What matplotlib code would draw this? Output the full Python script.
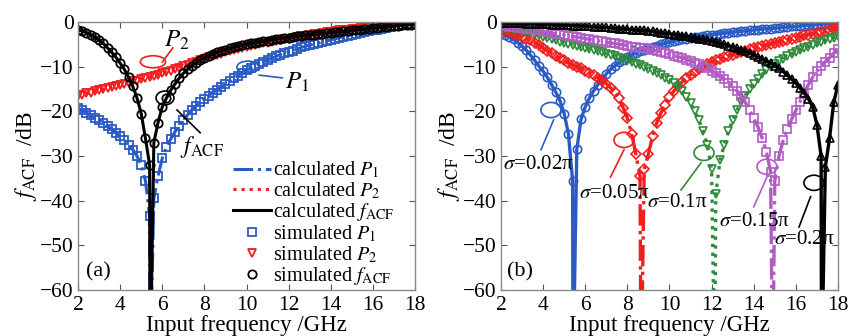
import matplotlib
matplotlib.use('Agg')
import matplotlib.pyplot as plt
import numpy as np
from matplotlib.patches import Ellipse
from matplotlib.lines import Line2D

plt.rcParams['font.family'] = ['Liberation Serif', 'DejaVu Serif']
plt.rcParams['mathtext.fontset'] = 'stix'

# frequency grid of the simulated points (GHz), 2.0 ... 18.0 in 0.2 steps
freq = np.round(np.arange(2.0, 18.01, 0.2), 1)

# ---- panel (a) ----
a_p1 = [-19.3, -19.8, -20.3, -20.9, -21.4, -22.0, -22.6, -23.3, -24.0, -24.8,
        -25.6, -26.5, -27.5, -28.6, -30.0, -32.0, -35.5, -43.5, -39.5, -34.5,
        -30.5, -28.0, -26.2, -24.6, -23.2, -22.0, -20.8, -19.7, -18.8, -18.0,
        -17.2, -16.5, -15.8, -15.2, -14.6, -13.9, -13.3, -12.6, -12.0, -11.4,
        -10.8, -10.3, -9.8, -9.4, -8.9, -8.5, -8.1, -7.7, -7.3, -7.0,
        -6.7, -6.4, -6.1, -5.7, -5.4, -5.2, -4.9, -4.7, -4.5, -4.2,
        -4.0, -3.8, -3.5, -3.3, -3.1, -2.8, -2.6, -2.4, -2.2, -2.1,
        -1.9, -1.7, -1.6, -1.4, -1.2, -1.0, -0.8, -0.7, -0.5, -0.4, -0.3]
a_p2 = [-16.5, -16.3, -16.0, -15.8, -15.5, -15.3, -15.1, -14.8, -14.6, -14.3,
        -14.1, -13.9, -13.6, -13.3, -13.1, -12.8, -12.6, -12.3, -12.0, -11.8,
        -11.5, -11.2, -10.9, -10.6, -10.2, -9.9, -9.6, -9.2, -8.9, -8.5,
        -8.2, -7.9, -7.6, -7.4, -7.1, -6.8, -6.6, -6.3, -6.1, -5.8,
        -5.6, -5.4, -5.2, -5.0, -4.8, -4.6, -4.4, -4.2, -4.0, -3.9,
        -3.7, -3.5, -3.4, -3.2, -3.1, -2.9, -2.7, -2.6, -2.5, -2.3,
        -2.2, -2.0, -1.9, -1.8, -1.7, -1.6, -1.5, -1.3, -1.2, -1.1,
        -1.0, -0.9, -0.8, -0.7, -0.6, -0.5, -0.4, -0.3, -0.3, -0.2, -0.1]
a_acf = [-1.8, -2.0, -2.4, -2.9, -3.4, -4.0, -4.8, -5.8, -6.8, -7.9,
         -9.2, -10.6, -12.4, -14.4, -17.0, -20.5, -26.0, -32.0, -27.0, -22.5,
         -19.0, -17.0, -15.3, -13.9, -12.6, -11.5, -10.6, -9.8, -9.1, -8.5,
         -8.0, -7.6, -7.2, -6.8, -6.5, -6.2, -5.9, -5.7, -5.4, -5.2,
         -5.0, -4.8, -4.7, -4.5, -4.3, -4.2, -4.0, -3.9, -3.7, -3.6,
         -3.5, -3.4, -3.2, -3.1, -3.0, -2.9, -2.8, -2.7, -2.6, -2.5,
         -2.4, -2.3, -2.2, -2.1, -2.0, -1.9, -1.8, -1.7, -1.6, -1.5,
         -1.4, -1.3, -1.2, -1.1, -1.0, -0.9, -0.8, -0.7, -0.6, -0.6, -0.5]
a_notch = 5.42

# ---- panel (b): f_ACF for several sigma ----
sigma_labels = ['0.02', '0.05', '0.1', '0.15', '0.2']
b_notch = [5.42, 8.65, 12.15, 14.9, 17.22]
b_s002 = [-2.5, -2.9, -3.4, -3.9, -4.6, -5.4, -6.3, -7.4, -8.6, -9.9,
          -11.0, -12.4, -14.0, -15.7, -17.6, -20.5, -25.0, -35.5, -28.5, -21.8,
          -19.0, -17.0, -15.4, -14.0, -12.8, -11.6, -10.6, -9.8, -9.0, -8.4,
          -7.9, -7.4, -7.0, -6.6, -6.2, -5.9, -5.6, -5.3, -5.0, -4.8,
          -4.5, -4.3, -4.1, -3.9, -3.7, -3.6, -3.4, -3.3, -3.1, -3.0,
          -2.9, -2.8, -2.6, -2.5, -2.4, -2.3, -2.2, -2.1, -2.0, -1.9,
          -1.8, -1.7, -1.6, -1.5, -1.5, -1.4, -1.3, -1.2, -1.1, -1.0,
          -1.0, -0.9, -0.8, -0.7, -0.7, -0.6, -0.5, -0.4, -0.4, -0.3, -0.3]
b_s005 = [-1.8, -2.0, -2.3, -2.6, -2.9, -3.3, -3.7, -4.1, -4.6, -5.2,
          -5.8, -6.4, -7.0, -7.6, -8.1, -8.6, -9.1, -9.6, -10.0, -10.4,
          -10.9, -11.4, -11.9, -12.5, -13.1, -13.8, -14.7, -15.6, -17.0, -19.2,
          -21.5, -25.0, -29.5, -34.5, -33.0, -29.5, -25.5, -22.5, -20.3, -18.5,
          -16.8, -15.5, -14.4, -13.4, -12.6, -11.8, -11.1, -10.5, -10.0, -9.5,
          -9.0, -8.6, -8.2, -7.9, -7.6, -7.3, -7.0, -6.7, -6.4, -6.1,
          -5.9, -5.6, -5.4, -5.1, -4.9, -4.7, -4.4, -4.2, -4.0, -3.7,
          -3.5, -3.3, -3.0, -2.8, -2.6, -2.4, -2.2, -2.0, -1.8, -1.6, -1.4]
b_s01 = [-1.2, -1.4, -1.5, -1.7, -1.8, -2.0, -2.2, -2.5, -2.7, -3.0,
         -3.3, -3.6, -3.9, -4.1, -4.4, -4.6, -4.9, -5.1, -5.3, -5.6,
         -5.8, -6.0, -6.3, -6.5, -6.8, -7.1, -7.4, -7.7, -8.0, -8.3,
         -8.7, -9.0, -9.3, -9.7, -10.1, -10.5, -10.9, -11.4, -11.9, -12.5,
         -13.0, -13.7, -14.5, -15.5, -16.7, -18.2, -19.9, -22.0, -24.5, -27.5,
         -33.0, -38.5, -31.0, -27.5, -24.5, -22.0, -19.8, -18.0, -16.5, -15.0,
         -13.8, -12.7, -11.7, -10.8, -10.0, -9.4, -8.8, -8.2, -7.7, -7.2,
         -6.7, -6.3, -5.9, -5.5, -5.1, -4.8, -4.5, -4.1, -3.8, -3.5, -3.2]
b_s015 = [-0.9, -1.0, -1.1, -1.2, -1.3, -1.4, -1.5, -1.6, -1.8, -1.9,
          -2.1, -2.2, -2.4, -2.6, -2.7, -2.9, -3.1, -3.2, -3.4, -3.5,
          -3.7, -3.9, -4.0, -4.2, -4.3, -4.5, -4.7, -4.8, -5.0, -5.1,
          -5.3, -5.5, -5.6, -5.8, -5.9, -6.1, -6.3, -6.5, -6.7, -7.0,
          -7.2, -7.5, -7.8, -8.0, -8.4, -8.7, -9.1, -9.5, -9.9, -10.4,
          -10.9, -11.5, -12.1, -12.8, -13.6, -14.4, -15.4, -16.6, -18.0, -19.7,
          -21.5, -23.5, -26.0, -29.0, -33.5, -35.5, -30.0, -26.5, -24.0, -21.8,
          -19.8, -17.8, -15.8, -14.0, -12.4, -11.0, -9.9, -8.9, -8.0, -7.0, -6.0]
b_s02 = [-0.2, -0.2, -0.3, -0.3, -0.3, -0.3, -0.4, -0.4, -0.4, -0.5,
         -0.5, -0.5, -0.6, -0.6, -0.7, -0.7, -0.7, -0.8, -0.8, -0.9,
         -0.9, -1.0, -1.1, -1.1, -1.2, -1.2, -1.3, -1.4, -1.5, -1.5,
         -1.6, -1.7, -1.8, -1.9, -1.9, -2.0, -2.1, -2.3, -2.4, -2.5,
         -2.6, -2.8, -2.9, -3.1, -3.2, -3.4, -3.6, -3.7, -3.9, -4.1,
         -4.3, -4.5, -4.8, -5.0, -5.3, -5.6, -5.9, -6.2, -6.6, -7.0,
         -7.4, -7.8, -8.3, -8.7, -9.2, -9.8, -10.4, -11.1, -11.9, -12.8,
         -13.7, -14.7, -15.9, -17.2, -19.0, -23.0, -30.0, -32.5, -26.0, -18.0, -14.0]
b_series = [b_s002, b_s005, b_s01, b_s015, b_s02]

b_colors = ['#2a5bc4', '#f21d1d', '#2e8b3a', '#b05cc4', '#000000']
b_markers = ['o', 'D', 'v', 's', '^']
b_lstyles = ['-', '-.', ':', '-.', '-']
b_msize = [6.0, 4.6, 6.0, 5.5, 6.0]

NOTCH_DEPTH = -80.0


def with_notch(x, y, f0):
    # calculated curve goes to -inf dB at the notch frequency
    xs = np.append(x, f0)
    ys = np.append(y, NOTCH_DEPTH)
    order = np.argsort(xs)
    return xs[order], ys[order]


def style_axes(ax):
    ax.set_xlim(2, 18)
    ax.set_ylim(-60, 0)
    ax.set_xticks(np.arange(2, 19, 2))
    ax.set_yticks(np.arange(-60, 1, 10))
    ax.tick_params(direction='in', top=True, right=True, labelsize=15.5,
                   length=4, width=0.8, color='#555555')
    ax.tick_params(axis='x', pad=4)
    ax.tick_params(axis='y', pad=3)
    for sp in ax.spines.values():
        sp.set_color('#8a8a8a')
        sp.set_linewidth(1.0)
    ax.set_xlabel('Input frequency /GHz', fontsize=16.5, labelpad=0.5)
    ax.set_ylabel(r'$f_{\rm ACF}$  /dB', fontsize=17, labelpad=1)


fig = plt.figure(figsize=(8.49, 3.36), dpi=100)
ax_a = fig.add_axes([0.0919, 0.1369, 0.3969, 0.7976])
ax_b = fig.add_axes([0.5901, 0.1369, 0.3969, 0.7976])

blue, red = '#2a5bc4', '#f21d1d'

# panel (a)
x, y = with_notch(freq, a_p1, a_notch)
ax_a.plot(x, y, '-.', color=blue, lw=2.2)
ax_a.plot(freq, a_p1, 's', mfc='none', mec=blue, ms=6, mew=1.3)
ax_a.plot(freq, a_p2, ':', color=red, lw=2.2)
ax_a.plot(freq, a_p2, 'v', mfc='none', mec=red, ms=6, mew=1.3)
x, y = with_notch(freq, a_acf, a_notch)
ax_a.plot(x, y, '-', color='k', lw=2.2)
ax_a.plot(freq, a_acf, 'o', mfc='none', mec='k', ms=6, mew=1.3)
style_axes(ax_a)

handles = [Line2D([], [], ls='-.', color=blue, lw=2.2),
           Line2D([], [], ls=':', color=red, lw=2.2),
           Line2D([], [], ls='-', color='k', lw=2.2),
           Line2D([], [], ls='none', marker='s', mfc='none', mec=blue, ms=6, mew=1.3),
           Line2D([], [], ls='none', marker='v', mfc='none', mec=red, ms=6, mew=1.3),
           Line2D([], [], ls='none', marker='o', mfc='none', mec='k', ms=6, mew=1.3)]
labels = [r'calculated $P_1$', r'calculated $P_2$', r'calculated $f_{\rm ACF}$',
          r'simulated $P_1$', r'simulated $P_2$', r'simulated $f_{\rm ACF}$']
ax_a.legend(handles, labels, loc='upper left', bbox_to_anchor=(0.46, 0.485),
            frameon=False, fontsize=14.5, handlelength=1.9, handletextpad=0.1,
            labelspacing=0.0, borderpad=0, borderaxespad=0)

# annotations (a)
ax_a.add_patch(Ellipse((5.56, -8.9), 1.2, 2.7, fill=False, ec=red, lw=1.2))
ax_a.plot([6.5, 6.0], [-5.8, -9.0], color=red, lw=1.2)
ax_a.text(6.7, -4.0, r'$P_2$', fontsize=18, ha='center', va='center')
ax_a.add_patch(Ellipse((10.07, -10.1), 1.05, 2.7, fill=False, ec=blue, lw=1.2))
ax_a.plot([10.6, 11.7], [-11.9, -12.5], color=blue, lw=1.2)
ax_a.text(12.4, -13.6, r'$P_1$', fontsize=18, ha='center', va='center')
ax_a.add_patch(Ellipse((6.13, -17.0), 0.85, 3.1, fill=False, ec='k', lw=1.2))
ax_a.plot([6.7, 7.8], [-19.7, -24.8], color='k', lw=1.2)
ax_a.text(7.9, -28.0, r'$f_{\rm ACF}$', fontsize=17, ha='center', va='center')
ax_a.text(2.95, -56.0, '(a)', fontsize=16, ha='center', va='center')

# panel (b)
for vals, f0, c, m, ls, ms in zip(b_series, b_notch, b_colors, b_markers,
                                  b_lstyles, b_msize):
    x, y = with_notch(freq, vals, f0)
    ax_b.plot(x, y, ls, color=c, lw=2.4)
    ax_b.plot(freq, vals, m, mfc='none', mec=c, ms=ms, mew=1.2)
style_axes(ax_b)

ell_b = [(4.37, -19.7), (7.84, -26.4), (11.64, -29.3), (14.63, -32.4), (16.86, -36.0)]
seg_b = [((3.9, 4.5), (-28.6, -21.9)), ((7.2, 7.84), (-34.7, -28.6)),
         ((10.55, 11.5), (-37.6, -31.5)), ((14.0, 14.63), (-41.4, -34.7)),
         ((16.15, 16.7), (-45.9, -39.1))]
txt_b = [(3.8, -32.0), (7.41, -38.3), (10.36, -40.5), (14.06, -44.7), (16.39, -48.8)]
for lab, c, e, s, t in zip(sigma_labels, b_colors, ell_b, seg_b, txt_b):
    ax_b.add_patch(Ellipse(e, 0.95, 3.4, fill=False, ec=c, lw=1.2))
    ax_b.plot(s[0], s[1], color=c, lw=1.2)
    ax_b.text(t[0], t[1], r'$\sigma$=' + lab + 'π', fontsize=15,
              ha='center', va='center')
ax_b.text(2.9, -56.0, '(b)', fontsize=16, ha='center', va='center')

fig.savefig('out.png', dpi=100)
